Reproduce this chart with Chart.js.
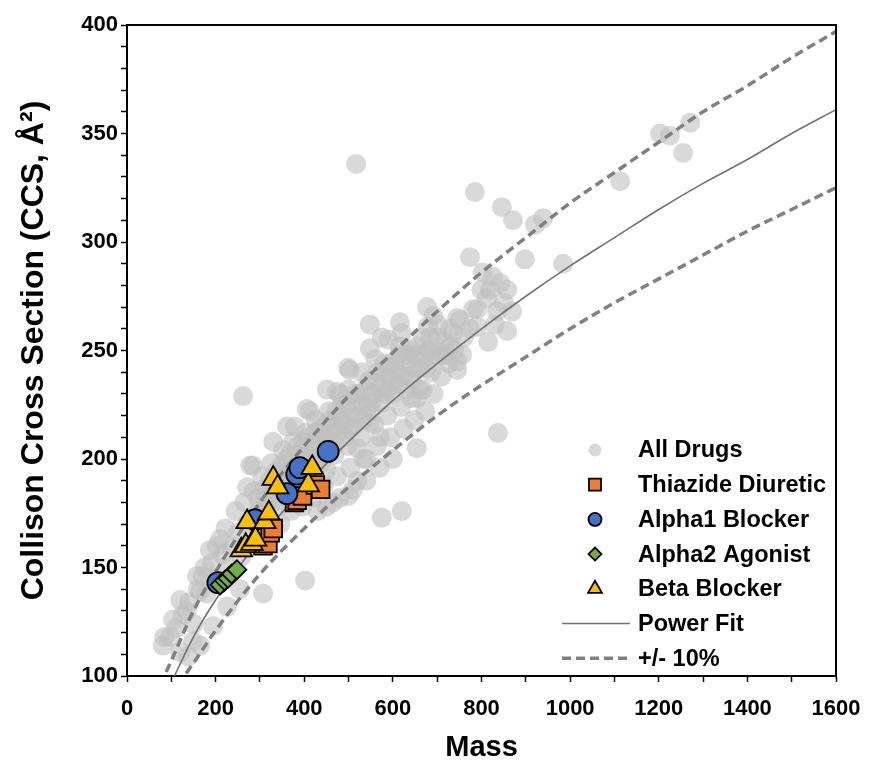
<!DOCTYPE html>
<html><head><meta charset="utf-8">
<script src="https://cdn.jsdelivr.net/npm/chart.js@4/dist/chart.umd.min.js"></script>
<style>html,body{margin:0;padding:0;background:#fff}canvas{display:block}</style>
</head><body>
<canvas id="c" width="870" height="761"></canvas>
<script>
// ---- data (mass, CCS) ----
const allDrugs = [
 [517,336],[262,229],[785,323],[846,316],[871,310],[939,311],[921,308],[898,292],[984,290],[1113,328],
 [1203,350],[1225,349],[1271,355],[1255,341],[837,212],[575,173],[620,176],[402,144],[307,138],
 [774,293],[803,286],[826,284],[842,281],[858,278],[819,278],[812,274],[869,268],[835,268],[790,269],
 [751,264],[729,260],[774,260],[858,259],[815,254],[706,249],[691,266],[745,245],[745,265],[781,269],
 [790,261],[736,258],[706,247],[745,241],[677,270],[679,261],[654,205],
 [548,262],[616,263],[575,256],[548,251],[616,252],[499,242],[474,231],[413,222],[379,215],[571,210],
 [548,217],[654,228],[284,197],[330,208],[361,215],[406,223],[451,232],[503,241],
 [81,114],[84,118],[97,118],[104,126],[120,135],[120,111],[135,130],[149,116],[158,146],[165,139],
 [171,146],[187,158],[203,160],[210,163],[271,187],[278,197],
 [255,140],[226,132],[194,123],[165,114],[138,109],
 [110,122],[125,128],[140,134],[150,124],[160,140],[175,150],[180,138],[192,152],[200,145],[215,156],
 [222,168],[230,150],[238,160],[245,176],[250,166],[258,155],[265,180],[270,170],[280,160],[286,185],
 [295,176],[300,166],[305,192],[312,182],[320,172],[326,198],[334,188],[340,178],[346,170],[352,204],
 [358,194],[364,184],[370,176],[376,208],[382,198],[390,188],[396,178],[402,212],[408,202],[414,192],
 [420,182],[426,218],[432,208],[438,198],[444,188],[450,178],[456,222],[462,212],[468,202],[474,192],
 [480,182],[486,226],[492,216],[498,206],[504,196],[510,186],[516,230],[522,220],[528,210],[534,200],
 [540,190],[546,236],[552,226],[558,216],[564,206],[570,196],[576,240],[582,230],[588,220],[594,210],
 [600,200],[606,244],[612,234],[618,224],[624,214],[630,248],[636,238],[642,228],[648,218],[655,252],
 [661,242],[667,232],[673,222],[680,250],[686,240],[692,230],[700,256],[710,238],[720,248],[730,252],
 [760,256],[800,278],[830,262],[850,272],
 [330,180],[350,190],[370,195],[390,200],[410,205],[430,200],[450,205],[470,215],[490,210],[510,215],
 [530,225],[550,222],[570,232],[590,238],[610,240],[630,232],[650,242],[670,248],[450,195],[420,195],
 [380,185],[360,200],[400,190],[440,212],[480,220],[520,205],[560,235],[600,230],[640,250],[465,180],
 [500,183],[430,176],[520,190],[540,200],[480,230],[500,232],[530,240],[560,246],[590,255],[620,258],
 [290,170],[296,182],[302,175],[308,186],[315,178],[322,190],[328,184],[336,194],[342,186],[348,197],
 [354,188],[362,190],[368,202],[374,192],[386,206],[392,196],[398,208],[406,196],[412,210],[418,200],
 [424,212],[436,214],[442,204],[448,216],[454,208],[460,218],[466,208],[472,222],[478,212],[484,218],
 [494,224],[502,214],[508,226],[514,220],[524,230],[532,218],[538,232],[544,224],[556,230],[566,240],
 [574,226],[580,244],[586,232],[596,244],[604,236],[614,248],[622,238],[632,244],[644,236],[652,248],
 [660,232],[668,256],[676,242],[684,256],[694,248],[702,262],[716,254],[726,244],[738,250],[756,248]
];
const thiazide = [[307,160],[318,161],[323,166],[330,168],[378,180],[384,181],[396,183],[425,188],[437,186]];
const alpha1 = [[205,143],[289,172],[361,184],[383,193],[390,196],[454,203.5]];
const alpha2 = [[210,142],[220,144],[228,145],[236,147],[248,149]];
const beta = [[258,158],[268,160],[282,161],[290,163],[271,171],[311,171],[320,175],[330,191],[340,187],[409,188],[418,196]];

const fitMass = [100,150,200,300,400,500,600,700,800,900,1000,1100,1200,1300,1400,1500,1600];
const fitCCS  = [97,118,135,163,187,208,227,244,260,275,289,302,315,327,338,350,361];
const upMass  = [75,100,150,200,300,400,500,600,700,800,900,1000,1100,1200,1300,1400,1500,1600];
const upCCS   = [96,107,130,148,180,206,229,249,268,286,302,318,332,346,360,372,385,397];
const loMass  = [115,150,200,300,400,500,600,700,800,900,1000,1100,1200,1300,1400,1500,1600];
const loCCS   = [96,106,121,147,168,187,204,220,234,247,260,272,283,294,305,315,325];

const xMin = 0, xMax = 1600, xStep = 100, xLabelStep = 200;
const yMin = 100, yMax = 400, yStep = 10, yLabelStep = 50;

const legendItems = ['All Drugs','Thiazide Diuretic','Alpha1 Blocker','Alpha2 Agonist','Beta Blocker','Power Fit','+/- 10%'];

// ---- chart ----
const FONT = "'Liberation Sans', Arial, sans-serif";
const pts = a => a.map(p => ({x: p[0], y: p[1]}));
const line = (m, c) => m.map((x, i) => ({x, y: c[i]}));

const framePlugin = {
  id: 'frame',
  afterDatasetsDraw(chart) {
    const {ctx, chartArea: a} = chart;
    ctx.save();
    ctx.strokeStyle = '#000'; ctx.lineWidth = 2;
    ctx.beginPath();
    ctx.moveTo(a.left, a.top); ctx.lineTo(a.right, a.top); ctx.lineTo(a.right, a.bottom);
    ctx.stroke();
    ctx.restore();
  }
};

const legendPlugin = {
  id: 'insideLegend',
  afterDraw(chart) {
    const {ctx, chartArea: a} = chart;
    const ds = chart.data.datasets;
    const byLabel = l => ds.find(d => d.label === l);
    const mx = a.right - 241, tx = a.right - 198, y0 = a.bottom - 226, dy = 34.7;
    ctx.save();
    ctx.font = "bold 23.5px " + FONT;
    ctx.textBaseline = 'middle';
    ctx.textAlign = 'left';
    legendItems.forEach((lab, i) => {
      const y = y0 + i * dy;
      const d = byLabel(lab);
      if (d.showLine) {
        ctx.strokeStyle = d.borderColor; ctx.lineWidth = d.borderWidth;
        ctx.setLineDash(d.borderDash || []);
        ctx.beginPath(); ctx.moveTo(a.right - 274, y); ctx.lineTo(a.right - 206, y); ctx.stroke();
        ctx.setLineDash([]);
      } else {
        ctx.fillStyle = d.backgroundColor; ctx.strokeStyle = d.borderColor || 'rgba(0,0,0,0)';
        ctx.lineWidth = d.borderWidth || 0;
        const r = lab === 'All Drugs' ? 6.5 : (d.pointStyle === 'rect' ? 8.5 : d.pointStyle === 'triangle' ? 8 : 6.5);
        Chart.helpers.drawPoint(ctx, {pointStyle: d.pointStyle, radius: r, rotation: 0, borderWidth: d.borderWidth || 0}, mx, y);
      }
      ctx.fillStyle = '#000';
      ctx.fillText(lab, tx, y + 1);
    });
    ctx.restore();
  }
};

new Chart(document.getElementById('c'), {
  type: 'scatter',
  data: {datasets: [
    {label: 'Beta Blocker', data: pts(beta), pointStyle: 'triangle', pointRadius: 12.5,
     backgroundColor: '#FFC000', borderColor: '#000', borderWidth: 1.8, order: 0},
    {label: 'Alpha2 Agonist', data: pts(alpha2), pointStyle: 'rectRot', pointRadius: 9.5,
     backgroundColor: '#70AD47', borderColor: '#000', borderWidth: 1.8, order: 1},
    {label: 'Alpha1 Blocker', data: pts(alpha1), pointStyle: 'circle', pointRadius: 10.5,
     backgroundColor: '#4472C4', borderColor: '#000', borderWidth: 1.8, order: 2},
    {label: 'Thiazide Diuretic', data: pts(thiazide), pointStyle: 'rect', pointRadius: 12.5,
     backgroundColor: '#ED7D31', borderColor: '#000', borderWidth: 1.8, order: 3},
    {label: 'Power Fit', data: line(fitMass, fitCCS), showLine: true, pointRadius: 0,
     borderColor: '#727272', borderWidth: 1.6, cubicInterpolationMode: 'monotone', order: 4},
    {label: '+/- 10%', data: line(upMass, upCCS), showLine: true, pointRadius: 0,
     borderColor: '#808080', borderWidth: 3.5, borderDash: [9, 5], cubicInterpolationMode: 'monotone', order: 5},
    {label: '-10%', data: line(loMass, loCCS), showLine: true, pointRadius: 0,
     borderColor: '#808080', borderWidth: 3.5, borderDash: [9, 5], cubicInterpolationMode: 'monotone', order: 6},
    {label: 'All Drugs', data: pts(allDrugs), pointStyle: 'circle', pointRadius: 10,
     backgroundColor: 'rgba(191,191,191,0.6)', borderWidth: 0, order: 7}
  ]},
  options: {
    responsive: false, animation: false, devicePixelRatio: 1,
    layout: {padding: {left: 0, top: 25, right: 34, bottom: 0}},
    plugins: {legend: {display: false}, tooltip: {enabled: false}},
    elements: {point: {hoverRadius: 0}},
    scales: {
      x: {
        type: 'linear', min: xMin, max: xMax,
        ticks: {stepSize: xStep, autoSkip: false, maxRotation: 0, padding: 14, color: '#000',
                font: {family: FONT, size: 22, weight: 'bold'},
                callback: v => (v % xLabelStep === 0 ? v : '')},
        grid: {drawOnChartArea: false, drawTicks: true, tickLength: 6, color: '#000', tickColor: '#000', tickWidth: 1.5},
        border: {color: '#000', width: 2},
        title: {display: true, text: 'Mass', color: '#000', font: {family: FONT, size: 29, weight: 'bold'}, padding: {top: 0, bottom: -4}},
        afterFit: s => { s.height = 85; s.paddingLeft = 0; s.paddingRight = 0; }
      },
      y: {
        type: 'linear', min: yMin, max: yMax,
        ticks: {stepSize: yStep, autoSkip: false, padding: 3, color: '#000',
                font: {family: FONT, size: 22, weight: 'bold'},
                callback: v => (v % yLabelStep === 0 ? v : '')},
        grid: {drawOnChartArea: false, drawTicks: true, tickLength: 6, color: '#000', tickColor: '#000', tickWidth: 1.5},
        border: {color: '#000', width: 2},
        title: {display: true, text: 'Collison Cross Section (CCS, Å²)', color: '#000', font: {family: FONT, size: 32, weight: 'bold'}, padding: {top: 15, bottom: 0}},
        afterFit: s => { s.width = 127; s.paddingTop = 0; s.paddingBottom = 0; }
      }
    }
  },
  plugins: [framePlugin, legendPlugin]
});
</script>
</body></html>
